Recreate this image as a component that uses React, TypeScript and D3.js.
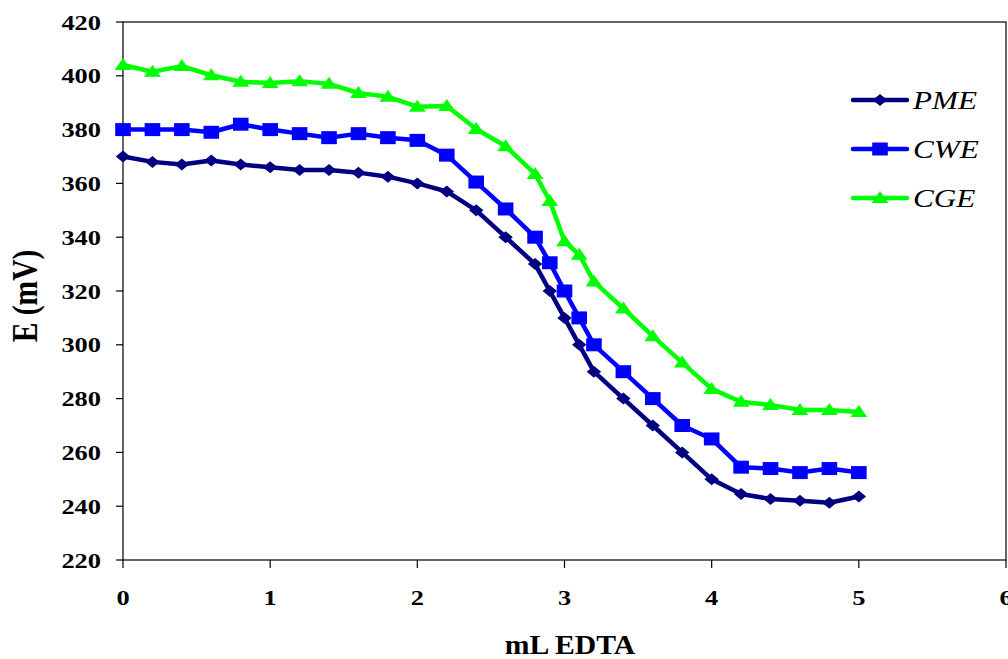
import React from "react";
import * as d3 from "d3";

const xValues = [0, 0.2, 0.4, 0.6, 0.8, 1.0, 1.2, 1.4, 1.6, 1.8, 2.0, 2.2, 2.4, 2.6, 2.8, 2.9, 3.0, 3.1, 3.2, 3.4, 3.6, 3.8, 4.0, 4.2, 4.4, 4.6, 4.8, 5.0];
const pme = [370, 368, 367, 368.5, 367, 366, 365, 365, 364, 362.5, 360, 357, 350, 340, 330, 320, 310, 300, 290, 280, 270, 260, 250, 244.5, 242.7, 242, 241.3, 243.6];
const cwe = [380, 380, 380, 379, 382, 380, 378.5, 377, 378.5, 377, 376, 370.5, 360.5, 350.5, 340, 330.5, 320, 310, 300, 290, 280, 270, 265, 254.5, 254, 252.5, 254, 252.5];
const cge = [404, 401.5, 403.6, 400.2, 397.8, 397.3, 398, 397, 393.6, 392.2, 388.5, 388.8, 380.2, 373.8, 363.5, 353.5, 338.5, 333.5, 323.5, 313.5, 303.2, 293.4, 283.6, 278.8, 277.6, 275.8, 275.8, 275];
const seriesNames = ["PME", "CWE", "CGE"];
const xTicks = [0, 1, 2, 3, 4, 5, 6];
const yTicks = [220, 240, 260, 280, 300, 320, 340, 360, 380, 400, 420];

const colors = ["#000080", "#0000FF", "#00FF00"];
const markers = ["diamond", "square", "triangle"];

const W = 1008, H = 659;
const left = 123, right = 1006, top = 22, bottom = 560;
const SX = 1.2;

function markerPath(kind: string): string {
  if (kind === "diamond") return "M0,-6 L6,0 L0,6 L-6,0 Z";
  if (kind === "square") return "M-6.5,-6.5 L6.5,-6.5 L6.5,6.5 L-6.5,6.5 Z";
  return "M0,-7 L7,5 L-7,5 Z";
}

const serif = { fontFamily: "Liberation Serif, Times New Roman, Times, serif" };

export default function App() {
  const x = d3.scaleLinear().domain([0, 6]).range([left, right]);
  const y = d3.scaleLinear().domain([220, 420]).range([bottom, top]);
  const data = [pme, cwe, cge];
  const line = d3.line<number>().x((_, i) => x(xValues[i])).y((d) => y(d));

  return (
    <svg width={W} height={H} style={{ position: "absolute", left: 0, top: 0, background: "#fff" }}>
      <rect x={0} y={0} width={W} height={H} fill="#fff" />
      <rect x={left} y={top} width={right - left} height={bottom - top} fill="none" stroke="#000" strokeWidth={1.2} />
      {yTicks.map((t) => (
        <g key={"y" + t}>
          <line x1={left - 7} x2={left} y1={y(t)} y2={y(t)} stroke="#000" strokeWidth={1.2} />
          <text
            transform={`translate(${left - 22},${y(t) + 7.5}) scale(${SX},1)`}
            textAnchor="end"
            style={serif}
            fontWeight="bold"
            fontSize={22}
            fill="#000"
          >
            {t}
          </text>
        </g>
      ))}
      {xTicks.map((t) => (
        <g key={"x" + t}>
          <line x1={x(t)} x2={x(t)} y1={bottom} y2={bottom + 8} stroke="#000" strokeWidth={1.2} />
          <text
            transform={`translate(${x(t)},${bottom + 45}) scale(${SX},1)`}
            textAnchor="middle"
            style={serif}
            fontWeight="bold"
            fontSize={22}
            fill="#000"
          >
            {t}
          </text>
        </g>
      ))}
      <text
        transform={`translate(570,654) scale(1.1,1)`}
        textAnchor="middle"
        style={serif}
        fontWeight="bold"
        fontSize={27}
        fill="#000"
      >
        mL EDTA
      </text>
      <text
        transform={`translate(37,296) scale(${SX},1) rotate(-90)`}
        textAnchor="middle"
        style={serif}
        fontWeight="bold"
        fontSize={29.5}
        fill="#000"
      >
        E (mV)
      </text>
      {data.map((vals, si) => (
        <g key={"s" + si}>
          <path d={line(vals) || ""} fill="none" stroke={colors[si]} strokeWidth={4.5} strokeLinejoin="round" />
          {vals.map((v, i) => (
            <path
              key={i}
              d={markerPath(markers[si])}
              transform={`translate(${x(xValues[i])},${y(v)}) scale(${SX},1)`}
              fill={colors[si]}
            />
          ))}
        </g>
      ))}
      {seriesNames.map((n, si) => {
        const ly = 100 + si * 49;
        return (
          <g key={"l" + si}>
            <line x1={853} x2={907} y1={ly} y2={ly} stroke={colors[si]} strokeWidth={4.5} strokeLinecap="round" />
            <path d={markerPath(markers[si])} transform={`translate(880,${ly}) scale(${SX},1)`} fill={colors[si]} />
            <text
              transform={`translate(913,${ly + 9}) scale(${SX},1)`}
              style={serif}
              fontStyle="italic"
              fontSize={26}
              fill="#000"
            >
              {n}
            </text>
          </g>
        );
      })}
    </svg>
  );
}
